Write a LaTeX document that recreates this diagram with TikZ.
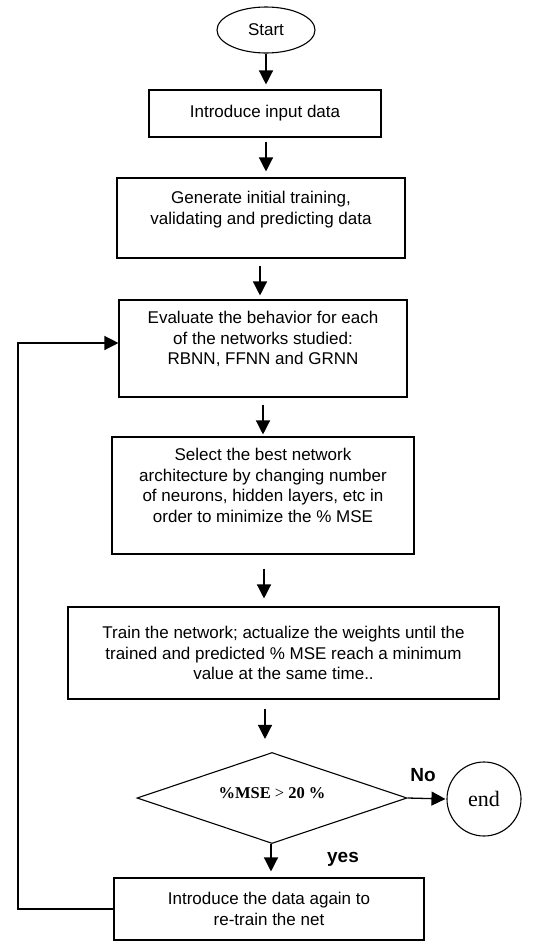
\documentclass[tikz,border=0pt]{standalone}
\usepackage{fontspec}
\setmainfont{Liberation Sans}
\newfontfamily\timesf{Liberation Serif}
\usetikzlibrary{shapes.geometric,arrows.meta}
\begin{document}
\begin{tikzpicture}[x=1pt,y=-1pt,
  lw/.style={line width=1.1pt},
  box/.style={draw, lw, rectangle, align=center, inner sep=0pt, font={\fontsize{17}{20.5}\selectfont}},
  arr/.style={line width=1.3pt, -{Triangle[length=14pt,width=14pt]}},
  lbl/.style={font={\bfseries\fontsize{19}{22}\selectfont}, inner sep=0pt}]
\useasboundingbox (0,0) rectangle (546,946);
\node[box, ellipse, minimum width=98pt, minimum height=46pt] (start) at (266,30) {Start};
\node[box, minimum width=232pt, minimum height=47pt] (b1) at (265,113.5) {Introduce input data};
\node[box, minimum width=288pt, minimum height=80pt] (b2) at (261,218) {Generate initial training,\\validating and predicting data\\\mbox{}};
\node[box, minimum width=288pt, minimum height=97pt] (b3) at (263,348.5) {Evaluate the behavior for each\\of the networks studied:\\RBNN, FFNN and GRNN\\\mbox{}};
\node[box, minimum width=302pt, minimum height=117pt] (b4) at (263,495.5) {Select the best network\\architecture by changing number\\of neurons, hidden layers, etc in\\order to minimize the \% MSE\\\mbox{}};
\node[box, minimum width=431pt, minimum height=92pt] (b5) at (283.5,653) {Train the network; actualize the weights until the\\trained and predicted \% MSE reach a minimum\\value at the same time..};
\node[draw, lw, diamond, aspect=2.97, minimum width=270pt, minimum height=91pt, inner sep=0pt,
      font={\timesf\bfseries\fontsize{16.5}{20}\selectfont}] (dec) at (272,798) {\raisebox{5pt}[\height][\depth]{\%MSE \textmd{>} 20 \%}};
\node[draw, lw, circle, minimum size=74pt, inner sep=0pt, font={\timesf\fontsize{22}{26}\selectfont}] (end) at (484,799) {end};
\node[box, minimum width=310pt, minimum height=62pt] (b6) at (269,909) {Introduce the data again to\\re-train the net};
\coordinate (fbk) at (18,343);
\node[lbl] (no) at (423,775) {No};
\node[lbl] (yes) at (343,859) {yes};
\draw[arr, shorten >=5pt] (start.south) -- (start.south |- b1.north);
\draw[arr, shorten <=4pt, shorten >=6pt] ([xshift=1pt]b1.south) -- ([xshift=1pt]b1.south |- b2.north);
\draw[arr, shorten <=7pt, shorten >=4pt] ([xshift=-1pt]b2.south) -- ([xshift=-1pt]b2.south |- b3.north);
\draw[arr, shorten <=7pt, shorten >=2pt] (b3.south) -- (b3.south |- b4.north);
\draw[arr, shorten <=14pt, shorten >=8pt] ([xshift=1pt]b4.south) -- ([xshift=1pt]b4.south |- b5.north);
\draw[arr, shorten <=9pt, shorten >=13pt] ([xshift=-18.5pt]b5.south) -- ([xshift=-18.5pt]b5.south |- dec.north);
\draw[arr, shorten >=1pt] (dec.east) -- (end.west);
\draw[arr, shorten >=6pt] ([xshift=-1pt]dec.south) -- ([xshift=-1pt]dec.south |- b6.north);
\draw[arr] (b6.west) -| (fbk) -- (fbk -| b3.west);
\end{tikzpicture}
\end{document}
